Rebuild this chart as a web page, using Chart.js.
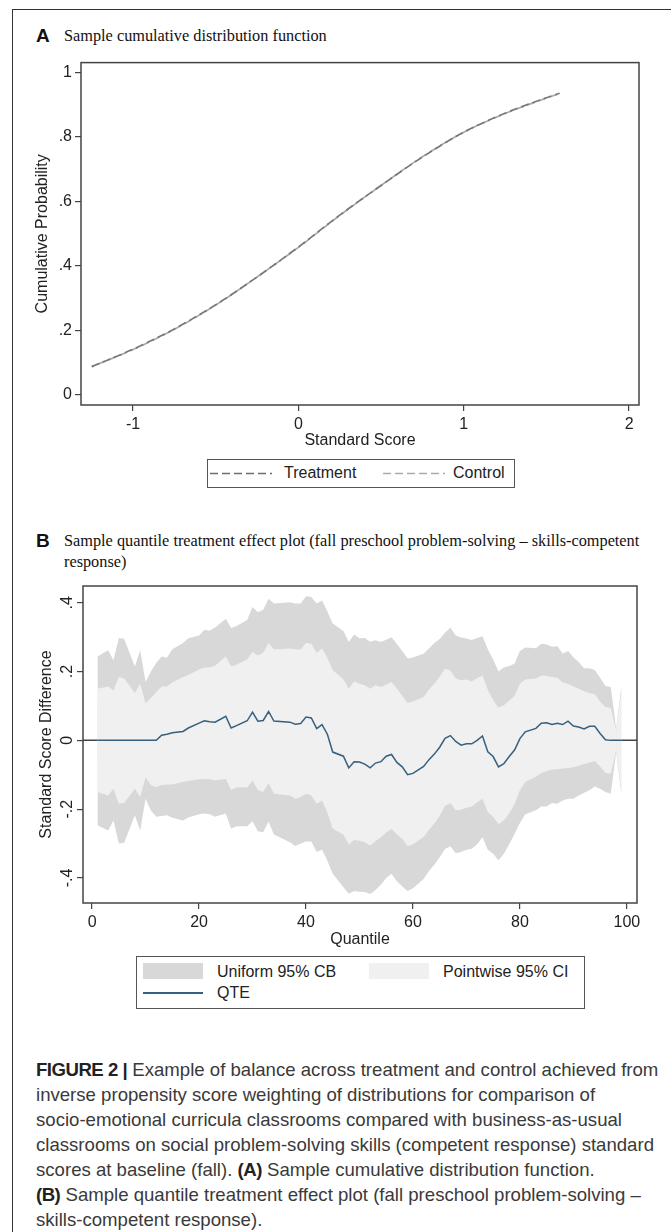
<!DOCTYPE html>
<html>
<head>
<meta charset="utf-8">
<script src="https://cdn.jsdelivr.net/npm/chart.js@4.4.0/dist/chart.umd.min.js"></script>
<style>
  body { margin: 0; width: 671px; height: 1232px; background: #fff; position: relative; overflow: hidden;
         font-family: 'Liberation Sans', Arial, sans-serif; color: #222; }
  #frame { position: absolute; left: 12px; top: 9px; width: 700px; height: 1300px;
           border-left: 1.5px solid #333; border-top: 1.5px solid #333; }
  .letter { position: absolute; left: 36px; font-weight: bold; font-size: 19px; color: #111; }
  .ptitle { position: absolute; left: 64px; font-family: 'Liberation Serif', 'Times New Roman', serif;
            font-size: 16.3px; line-height: 21px; color: #111; white-space: nowrap; }
  canvas { position: absolute; left: 0; }
  .legend { position: absolute; border: 1.2px solid #555; background: #fff; }
  .lg { position: absolute; font-size: 16px; line-height: 18px; color: #222; white-space: nowrap; }
  .sw { position: absolute; }
  #caption { position: absolute; left: 36px; top: 1057px; font-size: 18.6px; line-height: 25px;
             color: #3a3a3a; white-space: nowrap; }
  #caption b { color: #222; letter-spacing: -0.5px; }
</style>
</head>
<body>
<div id="frame"></div>

<div class="letter" style="top:25px;">A</div>
<div class="ptitle" style="top:25px;">Sample cumulative distribution function</div>
<canvas id="cdfChart" width="671" height="400" style="top:50px;"></canvas>
<div class="legend" style="left:207px; top:459px; width:306px; height:27px;"></div>
<svg class="sw" style="left:210px; top:472px;" width="62" height="3"><line x1="0" y1="1.5" x2="62" y2="1.5" stroke="#6e6e6e" stroke-width="1.6" stroke-dasharray="8 4"/></svg>
<div class="lg" style="left:284px; top:464px;">Treatment</div>
<svg class="sw" style="left:383px; top:472px;" width="62" height="3"><line x1="0" y1="1.5" x2="62" y2="1.5" stroke="#aaaaaa" stroke-width="1.6" stroke-dasharray="8 4"/></svg>
<div class="lg" style="left:453px; top:464px;">Control</div>

<div class="letter" style="top:530px;">B</div>
<div class="ptitle" style="top:530px;">Sample quantile treatment effect plot (fall preschool problem-solving &ndash; skills-competent<br>response)</div>
<canvas id="qteChart" width="671" height="380" style="top:570px;"></canvas>
<div class="legend" style="left:136px; top:956px; width:447px; height:51px;"></div>
<div class="sw" style="left:143px; top:963px; width:60px; height:16px; background:#d8d8d8;"></div>
<div class="lg" style="left:217px; top:963px;">Uniform 95% CB</div>
<div class="sw" style="left:369px; top:963px; width:60px; height:16px; background:#f0f0f0;"></div>
<div class="lg" style="left:443px; top:963px;">Pointwise 95% CI</div>
<div class="sw" style="left:143px; top:992px; width:60px; height:1.5px; background:#35607f;"></div>
<div class="lg" style="left:217px; top:984px;">QTE</div>

<div id="caption">
<b>FIGURE 2 |</b> Example of balance across treatment and control achieved from<br>
inverse propensity score weighting of distributions for comparison of<br>
socio-emotional curricula classrooms compared with business-as-usual<br>
classrooms on social problem-solving skills (competent response) standard<br>
scores at baseline (fall). <b>(A)</b> Sample cumulative distribution function.<br>
<b>(B)</b> Sample quantile treatment effect plot (fall preschool problem-solving &ndash;<br>
skills-competent response).
</div>

<script>
// Panel A : CDF (standard score)
const scoreGrid = [-1.25, -1, -0.75, -0.5, -0.25, 0, 0.25, 0.5, 0.75, 1, 1.25, 1.5, 1.58];
const treatmentCdf = [0.088, 0.142, 0.205, 0.28, 0.366, 0.459, 0.558, 0.65, 0.738, 0.815, 0.874, 0.922, 0.936];
const controlCdf = [0.088, 0.141, 0.204, 0.279, 0.366, 0.458, 0.557, 0.65, 0.739, 0.815, 0.873, 0.921, 0.935];
const cdfXTicks = [-1, 0, 1, 2];
const cdfYTicks = [0, 0.2, 0.4, 0.6, 0.8, 1];

// Panel B : quantile treatment effects
const quantiles = [
  1, 3, 4, 5, 6, 8, 9, 10, 11, 12,
  13, 14, 15, 17, 18, 20, 21, 22, 23, 25,
  26, 27, 29, 30, 31, 32, 33, 34, 37, 38,
  39, 40, 41, 42, 43, 44, 45, 47, 48, 49,
  50, 51, 52, 53, 54, 55, 56, 57, 58, 59,
  60, 62, 63, 64, 65, 66, 67, 68, 69, 70,
  71, 72, 73, 74, 75, 76, 77, 78, 79, 80,
  81, 83, 84, 85, 86, 87, 88, 89, 90, 91,
  92, 93, 94, 95, 96, 97, 98, 99];
const qte = [
  0, 0, 0, 0, 0, 0, 0, 0, 0, 0,
  0.015, 0.018, 0.022, 0.026, 0.036, 0.05, 0.057, 0.054, 0.053, 0.07,
  0.036, 0.043, 0.057, 0.082, 0.056, 0.058, 0.084, 0.056, 0.053, 0.047,
  0.049, 0.068, 0.065, 0.034, 0.046, 0.018, -0.034, -0.046, -0.08, -0.062,
  -0.063, -0.069, -0.08, -0.066, -0.062, -0.046, -0.041, -0.064, -0.077, -0.1,
  -0.096, -0.076, -0.056, -0.04, -0.02, 0.006, 0.014, -0.003, -0.014, -0.01,
  -0.01, 0, 0.013, -0.033, -0.047, -0.077, -0.068, -0.047, -0.028, 0.005,
  0.025, 0.035, 0.05, 0.051, 0.046, 0.05, 0.046, 0.056, 0.042, 0.039,
  0.033, 0.041, 0.041, 0.02, 0.002, 0, 0, 0];
const uniformUpper = [
  0.244, 0.262, 0.233, 0.298, 0.295, 0.215, 0.262, 0.17, 0.2, 0.225,
  0.244, 0.24, 0.265, 0.283, 0.297, 0.305, 0.322, 0.319, 0.328, 0.354,
  0.327, 0.333, 0.35, 0.388, 0.373, 0.38, 0.412, 0.398, 0.402, 0.398,
  0.398, 0.419, 0.417, 0.398, 0.407, 0.375, 0.34, 0.318, 0.286, 0.308,
  0.297, 0.298, 0.287, 0.291, 0.286, 0.293, 0.3, 0.28, 0.26, 0.238,
  0.241, 0.252, 0.267, 0.283, 0.295, 0.313, 0.328, 0.305, 0.299, 0.296,
  0.292, 0.298, 0.303, 0.265, 0.235, 0.2, 0.212, 0.216, 0.223, 0.26,
  0.27, 0.268, 0.281, 0.279, 0.272, 0.274, 0.253, 0.26, 0.242, 0.228,
  0.21, 0.21, 0.205, 0.182, 0.158, 0.155, 0.034, 0.16];
const pointwiseUpper = [
  0.15, 0.157, 0.145, 0.184, 0.18, 0.138, 0.165, 0.107, 0.123, 0.14,
  0.157, 0.157, 0.168, 0.184, 0.19, 0.206, 0.211, 0.213, 0.217, 0.244,
  0.215, 0.22, 0.235, 0.257, 0.247, 0.255, 0.283, 0.264, 0.267, 0.265,
  0.264, 0.283, 0.281, 0.254, 0.267, 0.24, 0.204, 0.178, 0.15, 0.172,
  0.165, 0.16, 0.15, 0.16, 0.155, 0.162, 0.17, 0.15, 0.13, 0.109,
  0.113, 0.126, 0.148, 0.165, 0.185, 0.208, 0.203, 0.18, 0.175, 0.177,
  0.171, 0.181, 0.189, 0.147, 0.117, 0.095, 0.102, 0.115, 0.13, 0.165,
  0.177, 0.18, 0.189, 0.187, 0.184, 0.182, 0.168, 0.165, 0.157, 0.15,
  0.143, 0.138, 0.134, 0.112, 0.097, 0.094, 0.029, 0.15];
const pointwiseLower = [
  -0.15, -0.16, -0.141, -0.184, -0.182, -0.141, -0.165, -0.107, -0.13, -0.136,
  -0.13, -0.128, -0.128, -0.121, -0.118, -0.113, -0.112, -0.113, -0.116, -0.112,
  -0.144, -0.136, -0.137, -0.116, -0.144, -0.15, -0.124, -0.155, -0.16, -0.17,
  -0.165, -0.155, -0.16, -0.184, -0.175, -0.21, -0.257, -0.274, -0.303, -0.29,
  -0.292, -0.296, -0.306, -0.293, -0.282, -0.268, -0.257, -0.274, -0.286, -0.308,
  -0.302, -0.281, -0.26, -0.242, -0.22, -0.19, -0.182, -0.203, -0.202, -0.196,
  -0.192, -0.18, -0.17, -0.208, -0.223, -0.243, -0.233, -0.212, -0.186, -0.145,
  -0.121, -0.106, -0.095, -0.09, -0.085, -0.084, -0.082, -0.08, -0.078, -0.074,
  -0.069, -0.064, -0.06, -0.076, -0.095, -0.097, -0.029, -0.15];
const uniformLower = [
  -0.247, -0.262, -0.233, -0.3, -0.298, -0.218, -0.262, -0.17, -0.204, -0.222,
  -0.22, -0.218, -0.225, -0.233, -0.224, -0.215, -0.213, -0.215, -0.222, -0.213,
  -0.257, -0.25, -0.25, -0.235, -0.264, -0.267, -0.237, -0.274, -0.296, -0.307,
  -0.3, -0.294, -0.294, -0.325, -0.318, -0.35, -0.388, -0.427, -0.446, -0.438,
  -0.44, -0.441, -0.447, -0.435, -0.42, -0.4, -0.388, -0.41, -0.425, -0.438,
  -0.43, -0.403, -0.38, -0.362, -0.34, -0.316, -0.308, -0.328, -0.325, -0.318,
  -0.315, -0.302, -0.282, -0.318, -0.33, -0.349, -0.33, -0.302, -0.272, -0.24,
  -0.215, -0.203, -0.192, -0.192, -0.182, -0.184, -0.175, -0.17, -0.17, -0.16,
  -0.152, -0.145, -0.134, -0.141, -0.15, -0.155, -0.034, -0.16];
const qteXTicks = [0, 20, 40, 60, 80, 100];
const qteYTicks = [-0.4, -0.2, 0, 0.2, 0.4];

const FONT = "'Liberation Sans', Arial, sans-serif";

// Stata style labels : .4 , -.2 , 0 , 1 , 2
function stataLabel(v) {
  if (Math.abs(v - Math.round(v)) < 1e-9) return String(Math.round(v));
  return v.toFixed(1).replace('0.', '.');
}

function pts(xs, ys) {
  return xs.map((x, i) => ({ x: x, y: ys[i] }));
}

// plot border all round
const frameBox = {
  id: 'frameBox',
  afterDraw(chart) {
    const { ctx, chartArea: a } = chart;
    ctx.save();
    ctx.strokeStyle = '#444';
    ctx.lineWidth = 1.5;
    ctx.strokeRect(a.left, a.top, a.right - a.left, a.bottom - a.top);
    ctx.restore();
  }
};

// y = 0 reference line under the bands
const zeroLine = {
  id: 'zeroLine',
  beforeDatasetsDraw(chart) {
    const { ctx, chartArea: a, scales } = chart;
    if (!chart.options.plugins.zeroLine) return;
    const py = scales.y.getPixelForValue(0);
    ctx.save();
    ctx.strokeStyle = '#444';
    ctx.lineWidth = 1.5;
    ctx.beginPath();
    ctx.moveTo(a.left, py);
    ctx.lineTo(a.right, py);
    ctx.stroke();
    ctx.restore();
  }
};

// vertical tick labels on the y axis of panel B
const verticalYLabels = {
  id: 'verticalYLabels',
  afterDraw(chart) {
    if (!chart.options.plugins.verticalYLabels) return;
    const { ctx, scales } = chart;
    const ys = scales.y;
    ctx.save();
    ctx.font = '16px ' + FONT;
    ctx.fillStyle = '#222';
    ctx.textAlign = 'center';
    ctx.textBaseline = 'middle';
    ys.ticks.forEach(t => {
      const py = ys.getPixelForValue(t.value);
      ctx.save();
      ctx.translate(68, py);
      ctx.rotate(-Math.PI / 2);
      ctx.fillText(stataLabel(t.value), 0, 0);
      ctx.restore();
    });
    ctx.restore();
  }
};

function fixedTicks(list) {
  return function (scale) {
    scale.ticks = list.map(v => ({ value: v }));
  };
}

// Panel A
new Chart(document.getElementById('cdfChart'), {
  type: 'line',
  data: {
    datasets: [
      {
        label: 'Treatment',
        data: pts(scoreGrid, treatmentCdf),
        borderColor: '#777777',
        borderWidth: 1.7,
        borderDash: [8, 4],
        pointRadius: 0,
        cubicInterpolationMode: 'monotone',
        fill: false
      },
      {
        label: 'Control',
        data: pts(scoreGrid, controlCdf),
        borderColor: '#a8a8a8',
        borderWidth: 1.7,
        borderDash: [8, 4],
        borderDashOffset: 6,
        pointRadius: 0,
        cubicInterpolationMode: 'monotone',
        fill: false
      }
    ]
  },
  options: {
    responsive: false,
    animation: false,
    devicePixelRatio: 1,
    layout: { padding: { top: 12, right: 32, left: 0, bottom: 0 } },
    plugins: { legend: { display: false }, tooltip: { enabled: false } },
    scales: {
      x: {
        type: 'linear',
        min: -1.315,
        max: 2.06,
        afterBuildTicks: fixedTicks(cdfXTicks),
        afterFit(s) { s.height = 45; },
        grid: { display: true, drawOnChartArea: false, drawTicks: true, tickLength: 6, color: '#444', lineWidth: 1.2 },
        border: { display: false },
        ticks: { color: '#222', font: { family: FONT, size: 16 }, padding: 4, maxRotation: 0,
                 callback: v => stataLabel(v) },
        title: { display: true, text: 'Standard Score', color: '#222',
                 font: { family: FONT, size: 16, lineHeight: 1 }, padding: { top: 0, bottom: 1 } }
      },
      y: {
        type: 'linear',
        min: -0.031,
        max: 1.031,
        afterBuildTicks: fixedTicks(cdfYTicks),
        afterFit(s) { s.width = 81; },
        grid: { display: true, drawOnChartArea: false, drawTicks: true, tickLength: 6, color: '#444', lineWidth: 1.2 },
        border: { display: false },
        ticks: { color: '#222', font: { family: FONT, size: 16 }, padding: 3,
                 callback: v => stataLabel(v) },
        title: { display: true, text: 'Cumulative Probability', color: '#222',
                 font: { family: FONT, size: 16, lineHeight: 1 }, padding: { top: 35, bottom: 0 } }
      }
    }
  },
  plugins: [frameBox]
});

// Panel B
new Chart(document.getElementById('qteChart'), {
  type: 'line',
  data: {
    datasets: [
      {
        label: 'QTE',
        data: pts(quantiles, qte),
        borderColor: '#35607f',
        borderWidth: 1.5,
        pointRadius: 0,
        fill: false
      },
      {
        label: 'Pointwise 95% CI',
        data: pts(quantiles, pointwiseUpper),
        borderWidth: 0,
        borderColor: 'rgba(0,0,0,0)',
        backgroundColor: '#f0f0f0',
        pointRadius: 0,
        fill: '+1'
      },
      {
        label: 'pointwise lower',
        data: pts(quantiles, pointwiseLower),
        borderWidth: 0,
        borderColor: 'rgba(0,0,0,0)',
        pointRadius: 0,
        fill: false
      },
      {
        label: 'Uniform 95% CB',
        data: pts(quantiles, uniformUpper),
        borderWidth: 0,
        borderColor: 'rgba(0,0,0,0)',
        backgroundColor: '#d8d8d8',
        pointRadius: 0,
        fill: '+1'
      },
      {
        label: 'uniform lower',
        data: pts(quantiles, uniformLower),
        borderWidth: 0,
        borderColor: 'rgba(0,0,0,0)',
        pointRadius: 0,
        fill: false
      }
    ]
  },
  options: {
    responsive: false,
    animation: false,
    devicePixelRatio: 1,
    layout: { padding: { top: 16, right: 34, left: 0, bottom: 0 } },
    plugins: { legend: { display: false }, tooltip: { enabled: false },
               zeroLine: true, verticalYLabels: true },
    scales: {
      x: {
        type: 'linear',
        min: -1.7,
        max: 101.9,
        afterBuildTicks: fixedTicks(qteXTicks),
        afterFit(s) { s.height = 47; },
        grid: { display: true, drawOnChartArea: false, drawTicks: true, tickLength: 6, color: '#444', lineWidth: 1.2 },
        border: { display: false },
        ticks: { color: '#222', font: { family: FONT, size: 16 }, padding: 4, maxRotation: 0 },
        title: { display: true, text: 'Quantile', color: '#222',
                 font: { family: FONT, size: 16, lineHeight: 1 }, padding: { top: 0, bottom: 2 } }
      },
      y: {
        type: 'linear',
        min: -0.473,
        max: 0.449,
        afterBuildTicks: fixedTicks(qteYTicks),
        afterFit(s) { s.width = 83; },
        grid: { display: true, drawOnChartArea: false, drawTicks: true, tickLength: 6, color: '#444', lineWidth: 1.2 },
        border: { display: false },
        ticks: { display: false },
        title: { display: true, text: 'Standard Score Difference', color: '#222',
                 font: { family: FONT, size: 16, lineHeight: 1 }, padding: { top: 39, bottom: 0 } }
      }
    }
  },
  plugins: [frameBox, zeroLine, verticalYLabels]
});
</script>
</body>
</html>
